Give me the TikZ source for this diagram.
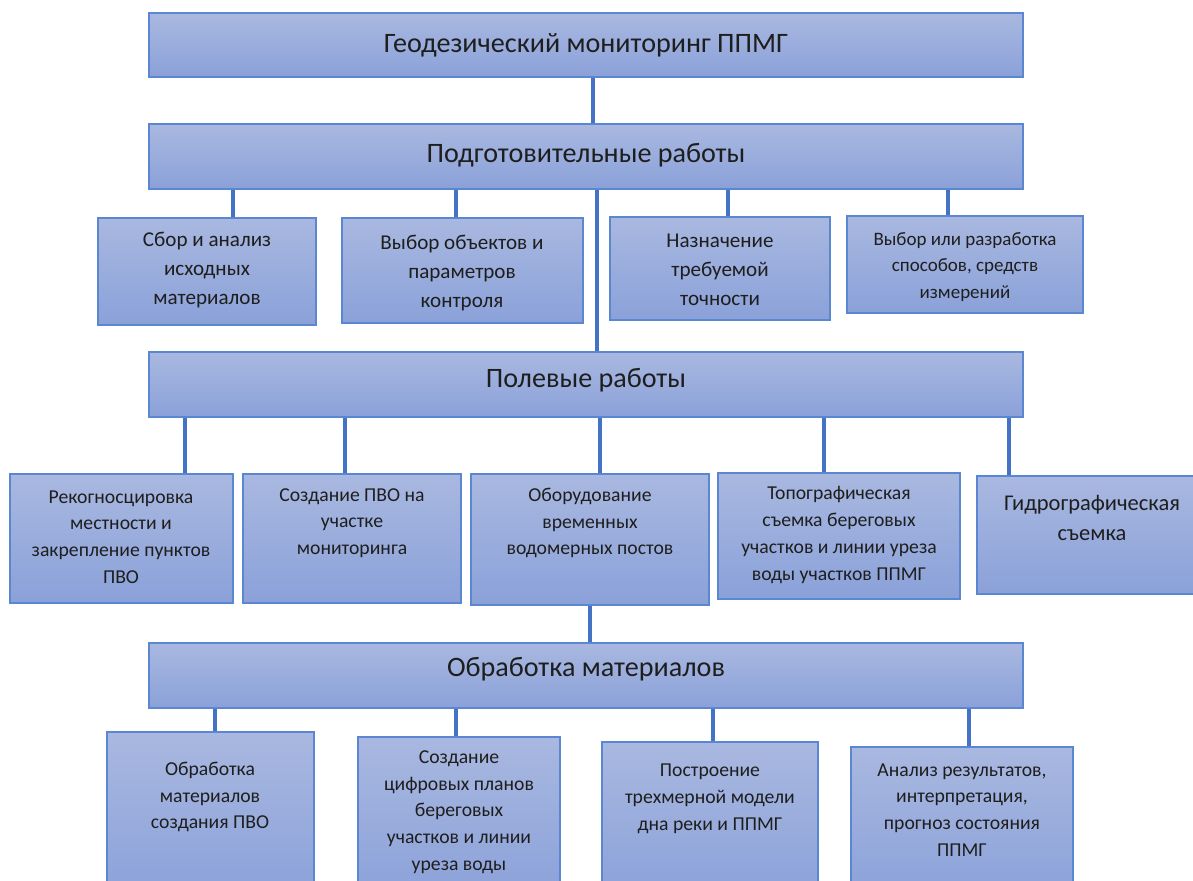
\documentclass[tikz,border=0pt]{standalone}
\usepackage{fontspec}
\setmainfont{Carlito}
\usetikzlibrary{fit,calc}
\definecolor{smtop}{HTML}{A9B8E0}
\definecolor{smbot}{HTML}{8AA1D9}
\definecolor{smedge}{HTML}{5B86D1}
\definecolor{smlink}{HTML}{4472C4}
\definecolor{smink}{HTML}{1E1E1E}

\begin{document}
\begin{tikzpicture}[
  x=0.025cm, y=-0.025cm,
  box/.style={draw=smedge, line width=1pt, top color=smtop, bottom color=smbot, inner sep=0pt},
  txt/.style={align=center, text=smink, inner sep=0pt, font=\fontsize{14}{19}\selectfont},
  txtl/.style={txt, font=\fontsize{15}{20.5}\selectfont},
  head/.style={txt, font=\fontsize{20}{24}\selectfont},
  link/.style={draw=smlink, line width=2.8pt},
]
  \useasboundingbox (0,0) rectangle (1193,881);
  \fill[white] (0,0) rectangle (1193,881);
  \clip (0,0) rectangle (1193,881);

  % main levels
  \node[box, fit={(149,13) (1023,77)}] (geo) {};
  \node[box, fit={(149,124) (1023,189)}] (prep) {};
  \node[box, fit={(149,352) (1023,417)}] (field) {};
  \node[box, fit={(149,643) (1023,708)}] (proc) {};
  \node[head] (geoT) at (586,45) {Геодезический мониторинг ППМГ};
  \node[head] (prepT) at (586,155) {Подготовительные работы};
  \node[head] (fieldT) at (586,380) {Полевые работы};
  \node[head] (procT) at (586,669) {Обработка материалов};

  % preparatory works
  \node[box, fit={(98,218) (316,325)}] (p1) {};
  \node[box, fit={(342,218) (583,323)}] (p2) {};
  \node[box, fit={(610,217) (830,320)}] (p3) {};
  \node[box, fit={(847,216) (1083,313)}] (p4) {};
  \node[txtl] (p1T) at (207,270) {Сбор и анализ\\исходных\\материалов};
  \node[txtl] (p2T) at (462,273) {Выбор объектов и\\параметров\\контроля};
  \node[txtl] (p3T) at (720,270) {Назначение\\требуемой\\точности};
  \node[txt, font=\fontsize{13.5}{19}\selectfont] (p4T) at (965,267) {Выбор или разработка\\способов, средств\\измерений};

  % field works
  \node[box, fit={(10,474) (233,603)}] (f1) {};
  \node[box, fit={(243,474) (461,603)}] (f2) {};
  \node[box, fit={(471,474) (709,605)}] (f3) {};
  \node[box, fit={(718,473) (960,599)}] (f4) {};
  \node[box, fit={(977,476) (1200,594)}] (f5) {};
  \node[txt] (f1T) at (121,537) {Рекогносцировка\\местности и\\закрепление пунктов\\ПВО};
  \node[txt] (f2T) at (352,523) {Создание ПВО на\\участке\\мониторинга};
  \node[txt] (f3T) at (590,523) {Оборудование\\временных\\водомерных постов};
  \node[txt] (f4T) at (839,535) {Топографическая\\съемка береговых\\участков и линии уреза\\воды участков ППМГ};
  \node[txt, font=\fontsize{16}{21}\selectfont] (f5T) at (1092,518) {Гидрографическая\\съемка};

  % processing
  \node[box, fit={(107,732) (314,900)}] (r1) {};
  \node[box, fit={(358,737) (560,900)}] (r2) {};
  \node[box, fit={(602,742) (818,900)}] (r3) {};
  \node[box, fit={(851,747) (1073,900)}] (r4) {};
  \node[txt] (r1T) at (210,797) {Обработка\\материалов\\создания ПВО};
  \node[txt] (r2T) at (459,812) {Создание\\цифровых планов\\береговых\\участков и линии\\уреза воды};
  \node[txt] (r3T) at (710,799) {Построение\\трехмерной модели\\дна реки и ППМГ};
  \node[txt] (r4T) at (962,810) {Анализ результатов,\\интерпретация,\\прогноз состояния\\ППМГ};

  % connectors
  \draw[link] (geo.south -| 593,0) -- (prep.north -| 593,0);
  \draw[link] (prep.south -| 597,0) -- (field.north -| 597,0);
  \draw[link] (f3.south -| 590,0) -- (proc.north -| 590,0);
  \foreach \n/\x in {p1/233, p2/456, p3/728, p4/948}
    \draw[link] (prep.south -| \x,0) -- (\n.north -| \x,0);
  \foreach \n/\x in {f1/185, f2/345, f3/600, f4/824, f5/1009}
    \draw[link] (field.south -| \x,0) -- (\n.north -| \x,0);
  \foreach \n/\x in {r1/215, r2/456, r3/713, r4/969}
    \draw[link] (proc.south -| \x,0) -- (\n.north -| \x,0);
\end{tikzpicture}
\end{document}
